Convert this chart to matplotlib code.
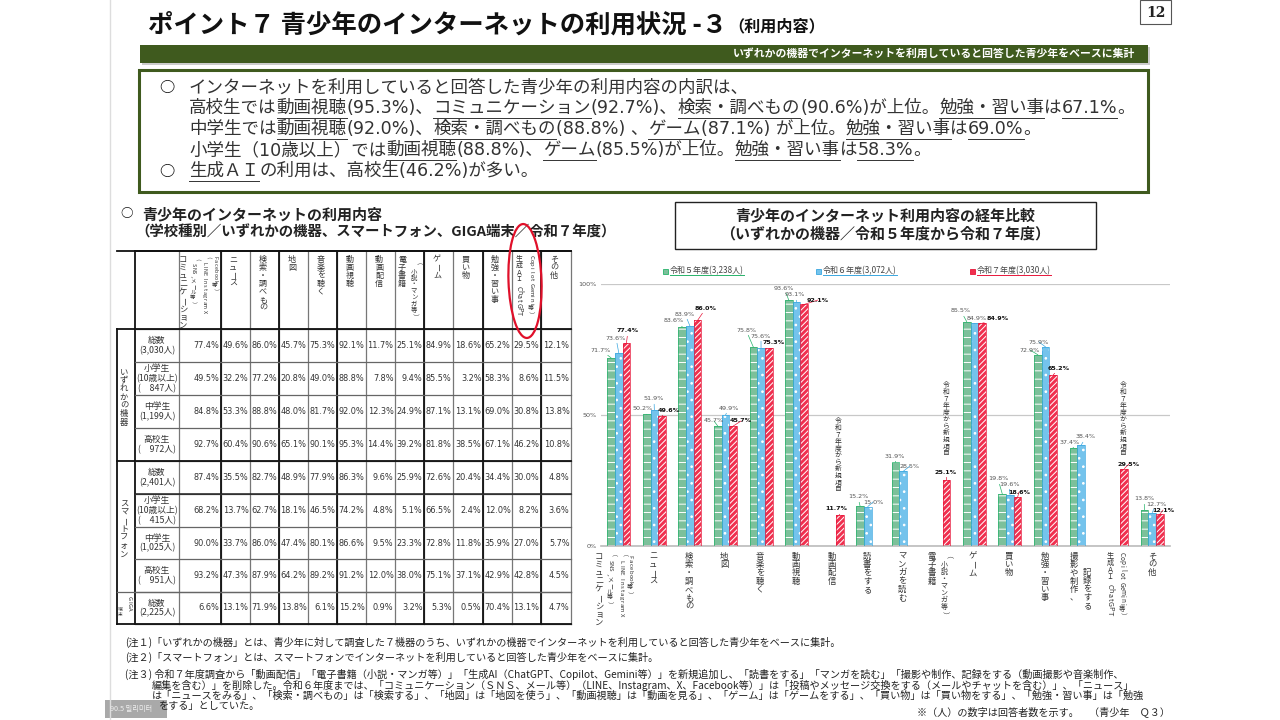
import numpy as np
import matplotlib
matplotlib.use("Agg")
import matplotlib.pyplot as plt
from matplotlib.patches import Rectangle, Ellipse

plt.rcParams['font.family'] = ['Noto Sans CJK JP', 'DejaVu Sans']
plt.rcParams['hatch.linewidth'] = 0.7

nan = float('nan')

# bar chart data
categories = ["コミュニケーション", "ニュース", "検索・調べもの", "地図", "音楽を聴く", "動画視聴", "動画配信", "読書をする",
              "マンガを読む", "電子書籍", "ゲーム", "買い物", "勉強・習い事", "撮影や制作、記録をする", "生成AI", "その他"]
r5 = [71.7, 50.2, 83.6, 45.7, 75.8, 93.6, nan, 15.2, 31.9, nan, 85.5, 19.8, 72.9, 37.4, nan, 13.8]
r6 = [73.6, 51.9, 83.9, 49.9, 75.6, 93.1, nan, 15.0, 28.5, nan, 84.9, 19.6, 75.9, 38.4, nan, 12.7]
r7 = [77.4, 49.6, 86.0, 45.7, 75.3, 92.1, 11.7, nan, nan, 25.1, 84.9, 18.6, 65.2, nan, 29.5, 12.1]
series_names = ["令和５年度(3,238人)", "令和６年度(3,072人)", "令和７年度(3,030人)"]

# table data
row_labels = ["総数\n(3,030人)", "小学生\n(10歳以上)\n(　847人)", "中学生\n(1,199人)", "高校生\n(　972人)",
              "総数\n(2,401人)", "小学生\n(10歳以上)\n(　415人)", "中学生\n(1,025人)", "高校生\n(　951人)",
              "総数\n(2,225人)"]
table_values = [
    [77.4, 49.6, 86.0, 45.7, 75.3, 92.1, 11.7, 25.1, 84.9, 18.6, 65.2, 29.5, 12.1],
    [49.5, 32.2, 77.2, 20.8, 49.0, 88.8, 7.8, 9.4, 85.5, 3.2, 58.3, 8.6, 11.5],
    [84.8, 53.3, 88.8, 48.0, 81.7, 92.0, 12.3, 24.9, 87.1, 13.1, 69.0, 30.8, 13.8],
    [92.7, 60.4, 90.6, 65.1, 90.1, 95.3, 14.4, 39.2, 81.8, 38.5, 67.1, 46.2, 10.8],
    [87.4, 35.5, 82.7, 48.9, 77.9, 86.3, 9.6, 25.9, 72.6, 20.4, 34.4, 30.0, 4.8],
    [68.2, 13.7, 62.7, 18.1, 46.5, 74.2, 4.8, 5.1, 66.5, 2.4, 12.0, 8.2, 3.6],
    [90.0, 33.7, 86.0, 47.4, 80.1, 86.6, 9.5, 23.3, 72.8, 11.8, 35.9, 27.0, 5.7],
    [93.2, 47.3, 87.9, 64.2, 89.2, 91.2, 12.0, 38.0, 75.1, 37.1, 42.9, 42.8, 4.5],
    [6.6, 13.1, 71.9, 13.8, 6.1, 15.2, 0.9, 3.2, 5.3, 0.5, 70.4, 13.1, 4.7],
]

# layout, in pixels of the page
col_x = [179, 221, 250, 279, 308, 337, 366, 395, 424, 453, 483, 512, 541, 571]
row_y = [329, 362, 395, 428, 461, 494, 527, 559, 592, 624]
thick_x = [135, 221, 279, 337, 424, 483, 541]
thick_y = [251, 329, 461, 624]

# where each bar label sits on the page (None means no bar)
r5_label_pos = [(601, 350), (643, 409), (674, 321), (714, 421), (746, 330), (784, 288), None, (858, 497),
                (895, 456), None, (961, 311), (998, 479), (1030, 350), (1070, 442), None, (1144, 499)]
r6_label_pos = [(616, 338), (654, 399), (685, 314), (729, 408), (761, 336), (795, 295), None, (873, 502),
                (910, 466), None, (977, 318), (1009, 484), (1039, 342), (1086, 437), None, (1156, 504)]
r7_label_pos = [(628, 331), (669, 410), (706, 308), (741, 421), (774, 343), (818, 300), (836, 509), None,
                None, (946, 472), (998, 319), (1019, 492), (1059, 368), None, (1129, 464), (1163, 510)]

GREEN = "#3f5a1e"
TEXT = "#333333"
BODY = 12.6

fig = plt.figure(figsize = (12.8, 7.2), dpi = 100)
page = fig.add_axes([0, 0, 1, 1])
page.set_xlim(0, 1280)
page.set_ylim(720, 0)
page.axis("off")
renderer = fig.canvas.get_renderer()


def vtext(x, y, s, size, color = TEXT, weight = "normal", step = 1.0):
    # vertical writing, one glyph at a time
    px = size * 100 / 72
    for c in s:
        if c == " ":
            y += 0.4 * px
            continue
        turned = ord(c) < 128 or c in "ー（）「」"
        adv = 0.62 * px if ord(c) < 128 else px * step
        page.text(x, y + adv / 2, c, fontsize = size, color = color, weight = weight, ha = "center", va = "center",
                  rotation = 270 if turned else 0, rotation_mode = "anchor")
        y += adv


def runs(x, y, parts, size, color = TEXT, weight = "normal"):
    # parts are (text, underlined) pairs drawn one after the other
    # DejaVu first: its digits are as wide as the ones on the slide
    for s, under in parts:
        t = page.text(x, y, s, fontsize = size, color = color, weight = weight, ha = "left", va = "center",
                      family = ["DejaVu Sans", "Noto Sans CJK JP"])
        w = t.get_window_extent(renderer).width
        if under:
            page.plot([x, x + w], [y + 9.5, y + 9.5], color = color, lw = 0.7)
        x += w


# page furniture
page.plot([110, 110], [0, 720], color = "#dddddd", lw = 1)
page.text(148, 25, "ポイント７ 青少年のインターネットの利用状況 -３", fontsize = 18.3, weight = "bold", color = "#111111", va = "center")
page.text(728, 26, "（利用内容）", fontsize = 11.6, weight = "bold", color = "#111111", va = "center")
page.add_patch(Rectangle((1140, 0), 31, 24, fc = "white", ec = "#555555", lw = 0.8))
page.text(1156, 13, "12", fontsize = 10, weight = "bold", family = "DejaVu Serif", ha = "center", va = "center", color = "#222222")
page.add_patch(Rectangle((142, 47), 1008, 18, fc = "#cccccc", ec = "none"))
page.add_patch(Rectangle((140, 45), 1008, 18, fc = GREEN, ec = "none"))
page.text(1135, 53.5, "いずれかの機器でインターネットを利用していると回答した青少年をベースに集計", fontsize = 7.8,
          weight = "bold", color = "white", ha = "right", va = "center")

# summary box
page.add_patch(Rectangle((139, 70), 1009, 122, fc = "white", ec = GREEN, lw = 2.2))
page.text(167, 87, "○", fontsize = 11, color = "#111111", ha = "center", va = "center", weight = "bold")
page.text(167, 171, "○", fontsize = 11, color = "#111111", ha = "center", va = "center", weight = "bold")
runs(189, 87, [("インターネットを利用していると回答した青少年の利用内容の内訳は、", False)], BODY)
runs(189, 108, [("高校生では", False), ("動画視聴", True), ("(95.3%)、", False), ("コミュニケーション", True), ("(92.7%)、", False),
                ("検索・調べもの", True), ("(90.6%)が上位。", False), ("勉強・習い事", True), ("は", False), ("67.1%", True), ("。", False)], BODY)
runs(189, 129, [("中学生では", False), ("動画視聴", True), ("(92.0%)、", False), ("検索・調べもの", True), ("(88.8%) 、", False),
                ("ゲーム", True), ("(87.1%) が上位。", False), ("勉強・習い事", True), ("は", False), ("69.0%", True), ("。", False)], BODY)
runs(189, 150, [("小学生（10歳以上）では", False), ("動画視聴", True), ("(88.8%)、", False), ("ゲーム", True), ("(85.5%)が上位。", False),
                ("勉強・習い事", True), ("は", False), ("58.3%", True), ("。", False)], BODY)
runs(189, 171, [("生成ＡＩ", True), ("の利用は、高校生(46.2%)が多い。", False)], BODY)

# headings over the table and the chart
page.text(127, 214, "○", fontsize = 9, weight = "bold", color = "#111111", ha = "center", va = "center")
page.text(142, 214, "青少年のインターネットの利用内容", fontsize = 10.8, weight = "bold", color = "#222222", va = "center")
page.text(135, 232, "（学校種別／いずれかの機器、スマートフォン、GIGA端末／令和７年度）", fontsize = 10.4, weight = "bold", color = "#222222", va = "center")
page.add_patch(Rectangle((675, 202), 421, 47, fc = "white", ec = "#222222", lw = 1))
page.text(885, 215, "青少年のインターネット利用内容の経年比較", fontsize = 10.8, weight = "bold", color = "#222222", ha = "center", va = "center")
page.text(885, 234, "（いずれかの機器／令和５年度から令和７年度）", fontsize = 10.8, weight = "bold", color = "#222222", ha = "center", va = "center")

# table grid
for x in col_x:
    page.plot([x, x], [251, 624], color = "#777777", lw = 0.9)
for x in thick_x:
    page.plot([x, x], [251, 624], color = "#111111", lw = 1.3)
page.plot([117, 117], [329, 624], color = "#111111", lw = 1.3)
page.plot([135, 571], [251, 251], color = "#111111", lw = 1.3)
for y in row_y:
    page.plot([135, 571], [y, y], color = "#666666", lw = 0.9)
for y in thick_y:
    page.plot([117, 571], [y, y], color = "#111111", lw = 1.3)
page.plot([135, 571], [494, 494], color = "#222222", lw = 1.1)
page.plot([117, 571], [592, 592], color = "#666666", lw = 0.9)

# table text
for i in range(len(row_labels)):
    page.text(157, (row_y[i] + row_y[i + 1]) / 2, row_labels[i], fontsize = 6.3, color = TEXT, ha = "center", va = "center", linespacing = 1.12)
    for j in range(len(table_values[i])):
        page.text(col_x[j + 1] - 1.5, (row_y[i] + row_y[i + 1]) / 2, "%.1f%%" % table_values[i][j], fontsize = 5.9,
                  family = "DejaVu Sans", color = TEXT, ha = "right", va = "center")

vtext(124, 368, "いずれかの機器", 6)
vtext(124, 500, "スマートフォン", 6)
vtext(129, 596, "GIGA", 4.2, step = 1)
vtext(120, 607, "端末", 3.4)

# table header
vtext(183, 255, "コミュニケーション", 6)
vtext(193, 258, "（SNS、メール等）", 3.9)
vtext(204, 256, "（LINE Instagram X", 3.9)
vtext(215, 256, "Facebook等）", 3.9)
for x, s in zip([233, 263, 292, 321, 350, 379, 402, 437, 466, 495],
                ["ニュース", "検索・調べもの", "地図", "音楽を聴く", "動画視聴", "動画配信", "電子書籍", "ゲーム", "買い物", "勉強・習い事"]):
    vtext(x, 255, s, 5.8)
vtext(414, 262, "（小説・マンガ等）", 4.6)
vtext(519, 255, "生成ＡＩ ChatGPT", 5.0)
vtext(531, 255, "Copilot Gemini等）", 4.3)
vtext(554, 255, "その他", 5.8)
page.add_patch(Ellipse((525, 281), 33, 114, angle = -2, fc = "none", ec = "#e0102a", lw = 1.6, zorder = 5))

# chart
ax = fig.add_axes([601 / 1280, 1 - 546 / 720, 569 / 1280, (546 - 283.7) / 720])
ax.patch.set_alpha(0)
x = np.arange(len(categories))
width = 0.215

looks = [(r5, -width, "#7cc09a", "#27b36a", "--", r5_label_pos, "#555555", "normal"),
         (r6, 0, "#74c3ec", "#3aa7e0", "..", r6_label_pos, "#555555", "normal"),
         (r7, width, "#f0304f", "#e8163a", "//////", r7_label_pos, "#111111", "bold")]

for vals, off, face, edge, hatch, label_pos, label_color, label_weight in looks:
    ax.bar(x + off, vals, width, color = face, edgecolor = "white", hatch = hatch, linewidth = 0, zorder = 2)
    ax.bar(x + off, vals, width, fill = False, edgecolor = edge, linewidth = 0.5, zorder = 3)
    for i in range(len(vals)):
        if label_pos[i] is None:
            continue
        ax.annotate("%.1f%%" % vals[i], xy = (x[i] + off, vals[i]), xycoords = "data",
                    xytext = label_pos[i], textcoords = page.transData,
                    fontsize = 4.6, color = label_color, weight = label_weight, family = "DejaVu Sans",
                    ha = "center", va = "center", zorder = 6,
                    arrowprops = dict(arrowstyle = "-", color = edge, lw = 0.5, shrinkA = 0, shrinkB = 0))

ax.set_xlim(-0.5, len(categories) - 0.5)
ax.set_ylim(0, 100)
ax.set_yticks([0, 50, 100])
ax.set_yticklabels(["0%", "50%", "100%"], fontsize = 4.6, color = "#555555", family = "DejaVu Sans")
ax.set_xticks([])
ax.tick_params(axis = "y", length = 0, pad = 3)
ax.grid(axis = "y", color = "#c8c8c8", lw = 0.9, zorder = 0)
ax.set_axisbelow(True)
for name in ["top", "right", "left"]:
    ax.spines[name].set_visible(False)
ax.spines["bottom"].set_color("#bbbbbb")
ax.spines["bottom"].set_linewidth(1.2)

# legend
for lx, name, edge, face in zip([665, 818, 972], series_names, ["#27b36a", "#3aa7e0", "#e8163a"],
                                ["#7cc09a", "#74c3ec", "#f0304f"]):
    page.add_patch(Rectangle((lx - 2, 268.5), 5, 5, fc = face, ec = edge, lw = 0.6))
    t = page.text(lx + 5, 271, name, fontsize = 5.8, color = "#444444", va = "center")
    w = t.get_window_extent(renderer).width
    page.plot([lx + 5, lx + 5 + w], [275, 275], color = edge, lw = 0.7)

# category labels under the chart
vtext(599, 552, categories[0], 6)
vtext(610, 554, "（SNS、メール等）", 4.3)
vtext(621, 554, "（LINE Instagram X", 4.3)
vtext(630, 555, "Facebook等）", 4.3)
for lx, i in zip([653, 689, 724, 760, 796, 832, 867, 902, 932, 973, 1009, 1045, 1152],
                 [1, 2, 3, 4, 5, 6, 7, 8, 9, 10, 11, 12, 15]):
    vtext(lx, 552, categories[i], 6)
vtext(944, 555, "（小説・マンガ等）", 5)
vtext(1074, 552, "撮影や制作、", 6)
vtext(1087, 568, "記録をする", 6)
vtext(1110, 552, "生成ＡＩ ChatGPT", 5.2)
vtext(1122, 552, "Copilot Gemini等）", 4.6)

for lx, ly in [(838, 418), (946, 382), (1123, 382)]:
    vtext(lx, ly, "令和７年度から新規項目", 4.9)

# measuring tag left over in the screenshot, the notes print over it
page.add_patch(Rectangle((105, 700), 62, 18, fc = "#9a9a9a", ec = "none", alpha = 0.85))
page.text(131, 709, "90.5 밀리미터", fontsize = 5.2, color = "#eeeeee", family = ["Noto Sans CJK KR", "DejaVu Sans"],
          ha = "center", va = "center")

# notes
note_lines = [
    (125, 642, "(注１)「いずれかの機器」とは、青少年に対して調査した７機器のうち、いずれかの機器でインターネットを利用していると回答した青少年をベースに集計。"),
    (125, 657, "(注２)「スマートフォン」とは、スマートフォンでインターネットを利用していると回答した青少年をベースに集計。"),
    (125, 674, "(注３) 令和７年度調査から「動画配信」「電子書籍（小説・マンガ等）」「生成AI（ChatGPT、Copilot、Gemini等）」を新規追加し、「読書をする」「マンガを読む」「撮影や制作、記録をする（動画撮影や音楽制作、"),
    (152, 685, "編集を含む）」を削除した。令和６年度までは、「コミュニケーション（ＳＮＳ、メール等）（LINE、Instagram、X、Facebook等）」は「投稿やメッセージ交換をする（メールやチャットを含む）」、「ニュース」"),
    (152, 696, "は「ニュースをみる」、「検索・調べもの」は「検索する」、「地図」は「地図を使う」、「動画視聴」は「動画を見る」、「ゲーム」は「ゲームをする」、「買い物」は「買い物をする」、「勉強・習い事」は「勉強"),
    (159, 706, "をする」としていた。"),
]
for nx, ny, s in note_lines:
    page.text(nx, ny, s, fontsize = 7.3, color = "#222222", va = "center")
page.text(1170, 712, "※（人）の数字は回答者数を示す。　（青少年　Ｑ３）", fontsize = 7.3, color = "#222222", ha = "right", va = "center")

plt.savefig("out.png", dpi = 100)
plt.close()
